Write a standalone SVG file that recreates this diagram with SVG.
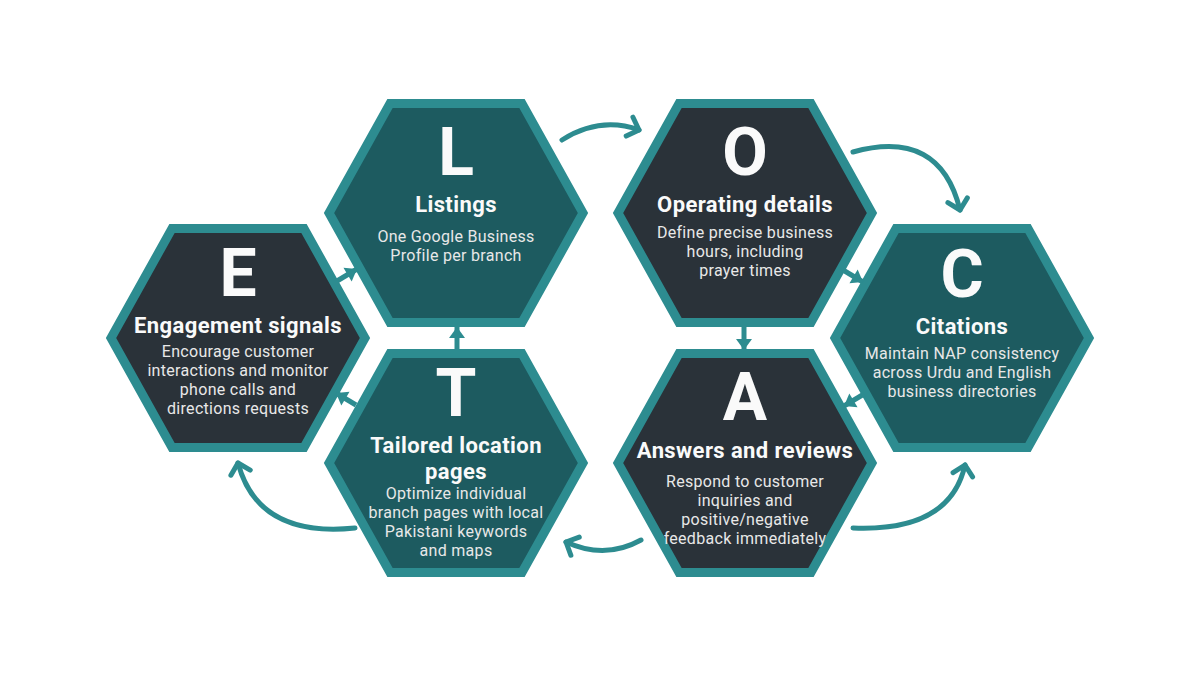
<svg xmlns="http://www.w3.org/2000/svg" width="1200" height="675" viewBox="0 0 1200 675">
<style>
.hex{stroke:#2d8c90;stroke-width:9;stroke-linejoin:miter}
.teal{fill:#1d5b60}
.dark{fill:#2a3239}
.big{font-family:Roboto,"Liberation Sans",sans-serif;font-weight:700;font-size:66px;fill:#fafafa;text-anchor:middle}
.ttl{font-family:Roboto,"Liberation Sans",sans-serif;font-weight:700;font-size:22px;letter-spacing:0.4px;fill:#fafafa;text-anchor:middle}
.body{font-family:Roboto,"Liberation Sans",sans-serif;font-size:16px;letter-spacing:0.3px;fill:#e8e8e8;text-anchor:middle}
.curve{fill:none;stroke:#2d8c90;stroke-width:5;stroke-linecap:round}
.short{fill:none;stroke:#2d8c90;stroke-width:5}
</style>
<defs>
<polygon id="hx" points="-66,-109.5 66,-109.5 127,0 66,109.5 -66,109.5 -127,0"/>
<marker id="chev" markerUnits="userSpaceOnUse" markerWidth="30" markerHeight="30" refX="0" refY="0" viewBox="-15 -15 30 30" orient="auto">
<path d="M-10,-10 L0,0 L-10,10" fill="none" stroke="#2d8c90" stroke-width="5" stroke-linecap="round" stroke-linejoin="round"/>
</marker>
<marker id="tri" markerUnits="userSpaceOnUse" markerWidth="24" markerHeight="24" refX="0" refY="0" viewBox="-12 -12 24 24" orient="auto">
<path d="M0,0 L-11,-8 L-11,8 Z" fill="#2d8c90"/>
</marker>
</defs>
<rect width="1200" height="675" fill="#ffffff"/>

<g id="node-L">
<use href="#hx" x="456" y="213" class="hex teal"/>
<text x="456" y="175" class="big">L</text>
<text x="456" y="212" class="ttl">Listings</text>
<text x="456" y="242" class="body">One Google Business</text>
<text x="456" y="261" class="body">Profile per branch</text>
</g>

<g id="node-O">
<use href="#hx" x="745" y="213" class="hex dark"/>
<text x="745" y="175" class="big">O</text>
<text x="745" y="212" class="ttl">Operating details</text>
<text x="745" y="238" class="body">Define precise business</text>
<text x="745" y="257" class="body">hours, including</text>
<text x="745" y="276" class="body">prayer times</text>
</g>

<g id="node-E">
<use href="#hx" x="238" y="338" class="hex dark"/>
<text x="238" y="296" class="big">E</text>
<text x="238" y="333" class="ttl">Engagement signals</text>
<text x="238" y="357" class="body">Encourage customer</text>
<text x="238" y="376" class="body">interactions and monitor</text>
<text x="238" y="395" class="body">phone calls and</text>
<text x="238" y="414" class="body">directions requests</text>
</g>

<g id="node-C">
<use href="#hx" x="962" y="338" class="hex teal"/>
<text x="962" y="297" class="big">C</text>
<text x="962" y="334" class="ttl">Citations</text>
<text x="962" y="359" class="body">Maintain NAP consistency</text>
<text x="962" y="378" class="body">across Urdu and English</text>
<text x="962" y="397" class="body">business directories</text>
</g>

<g id="node-T">
<use href="#hx" x="456" y="463" class="hex teal"/>
<text x="456" y="416" class="big">T</text>
<text x="456" y="453" class="ttl">Tailored location</text>
<text x="456" y="479" class="ttl">pages</text>
<text x="456" y="499" class="body">Optimize individual</text>
<text x="456" y="518" class="body">branch pages with local</text>
<text x="456" y="537" class="body">Pakistani keywords</text>
<text x="456" y="556" class="body">and maps</text>
</g>

<g id="node-A">
<use href="#hx" x="745" y="463" class="hex dark"/>
<text x="745" y="420" class="big">A</text>
<text x="745" y="458" class="ttl">Answers and reviews</text>
<text x="745" y="487" class="body">Respond to customer</text>
<text x="745" y="506" class="body">inquiries and</text>
<text x="745" y="525" class="body">positive/negative</text>
<text x="745" y="544" class="body">feedback immediately</text>
</g>

<g id="connectors">
<path class="curve" marker-end="url(#chev)" d="M562,140 Q600,116 639,130"/>
<path class="curve" marker-end="url(#chev)" d="M853,152 Q940,128 960,210"/>
<path class="curve" marker-end="url(#chev)" d="M853,528 Q950,532 965,465"/>
<path class="curve" marker-end="url(#chev)" d="M641,540 Q605,560 566,542"/>
<path class="curve" marker-end="url(#chev)" d="M355,528 Q258,538 238,463"/>

<path class="short" marker-end="url(#tri)" d="M337,281 L357,269"/>
<path class="short" marker-end="url(#tri)" d="M356,405 L336,393"/>
<path class="short" marker-end="url(#tri)" d="M457,350 L457,327"/>
<path class="short" marker-end="url(#tri)" d="M744,326 L744,350"/>
<path class="short" marker-end="url(#tri)" d="M843,270 L863,282"/>
<path class="short" marker-end="url(#tri)" d="M864,394 L844,406"/>
</g>
</svg>
